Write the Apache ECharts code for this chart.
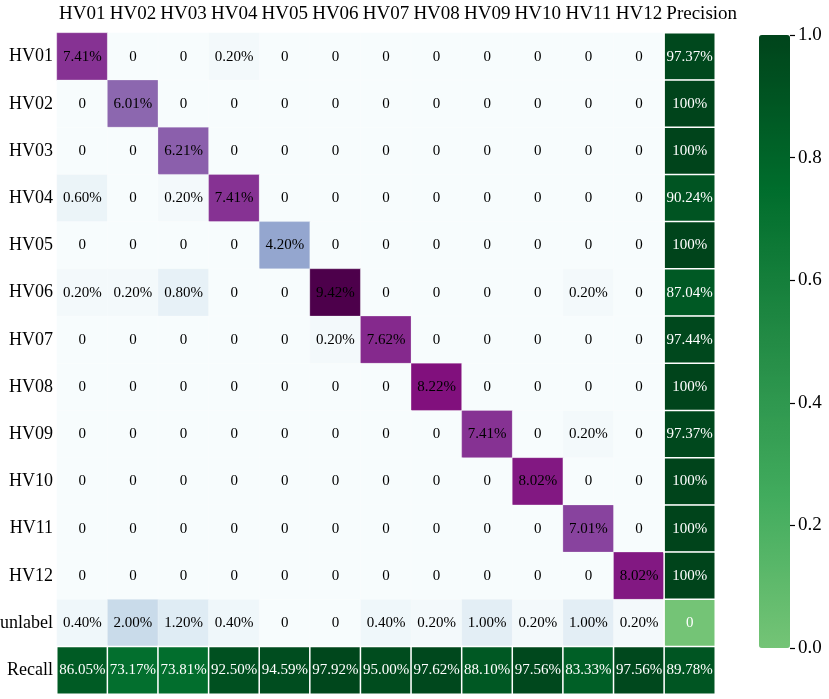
<!DOCTYPE html>
<html>
<head>
<meta charset="utf-8">
<script src="https://cdn.jsdelivr.net/npm/echarts@6/dist/echarts.min.js"></script>
<style>
  html, body { margin: 0; padding: 0; background: #fff; }
  #box { width: 829px; height: 699px; }
</style>
</head>
<body>
<div id="box"></div>
<script>
// column / row names
const predLabels = ['HV01', 'HV02', 'HV03', 'HV04', 'HV05', 'HV06', 'HV07', 'HV08', 'HV09', 'HV10', 'HV11', 'HV12', 'Precision']
const trueLabels = ['HV01', 'HV02', 'HV03', 'HV04', 'HV05', 'HV06', 'HV07', 'HV08', 'HV09', 'HV10', 'HV11', 'HV12', 'unlabel', 'Recall']

// confusion matrix in % of all samples (rows = HV01..HV12, unlabel)
const matrix = [
  [7.41, 0, 0, 0.20, 0, 0, 0, 0, 0, 0, 0, 0],
  [0, 6.01, 0, 0, 0, 0, 0, 0, 0, 0, 0, 0],
  [0, 0, 6.21, 0, 0, 0, 0, 0, 0, 0, 0, 0],
  [0.60, 0, 0.20, 7.41, 0, 0, 0, 0, 0, 0, 0, 0],
  [0, 0, 0, 0, 4.20, 0, 0, 0, 0, 0, 0, 0],
  [0.20, 0.20, 0.80, 0, 0, 9.42, 0, 0, 0, 0, 0.20, 0],
  [0, 0, 0, 0, 0, 0.20, 7.62, 0, 0, 0, 0, 0],
  [0, 0, 0, 0, 0, 0, 0, 8.22, 0, 0, 0, 0],
  [0, 0, 0, 0, 0, 0, 0, 0, 7.41, 0, 0.20, 0],
  [0, 0, 0, 0, 0, 0, 0, 0, 0, 8.02, 0, 0],
  [0, 0, 0, 0, 0, 0, 0, 0, 0, 0, 7.01, 0],
  [0, 0, 0, 0, 0, 0, 0, 0, 0, 0, 0, 8.02],
  [0.40, 2.00, 1.20, 0.40, 0, 0, 0.40, 0.20, 1.00, 0.20, 1.00, 0.20]
]
// per row (HV01..HV12, unlabel)
const precision = [0.9737, 1, 1, 0.9024, 1, 0.8704, 0.9744, 1, 0.9737, 1, 1, 1, 0]
// per column (HV01..HV12, overall)
const recall = [0.8605, 0.7317, 0.7381, 0.9250, 0.9459, 0.9792, 0.9500, 0.9762, 0.8810, 0.9756, 0.8333, 0.9756, 0.8978]
const barTicks = [0, 0.2, 0.4, 0.6, 0.8, 1.0]

const FONT = '"Liberation Serif", "Times New Roman", serif'

// heatmap points [col, row, value]
const mainData = []
matrix.forEach((row, r) => row.forEach((v, c) => mainData.push([c, r, v])))
const greenData = []
precision.forEach((v, r) => greenData.push([12, r, v]))
recall.forEach((v, c) => greenData.push([c, 13, v]))

const pctMain = v => v === 0 ? '0' : v.toFixed(2) + '%'
const pctGreen = v => v === 0 ? '0' : (v === 1 ? '100%' : (v * 100).toFixed(2) + '%')

const chart = echarts.init(document.getElementById('box'))
chart.setOption({
  backgroundColor: '#fff',
  animation: false,
  grid: [
    { left: 57, top: 33, width: 658, height: 661, containLabel: false, outerBoundsMode: 'none' },
    { left: 759, top: 35, width: 31, height: 613, containLabel: false, outerBoundsMode: 'none' }
  ],
  xAxis: [
    {
      type: 'category',
      data: predLabels,
      position: 'top',
      gridIndex: 0,
      axisLine: { show: false },
      axisTick: { show: false },
      axisLabel: {
        fontFamily: FONT, fontSize: 19, color: '#000', margin: 9, interval: 0,
        // the last header sits a little right of its column
        formatter: v => v === 'Precision' ? '{p|' + v + '}' : v,
        rich: { p: { fontFamily: FONT, fontSize: 19, color: '#000', padding: [0, 0, 0, 24] } }
      }
    },
    { type: 'value', gridIndex: 1, show: false, min: 0, max: 1 }
  ],
  yAxis: [
    {
      type: 'category',
      data: trueLabels,
      inverse: true,
      gridIndex: 0,
      axisLine: { show: false },
      axisTick: { show: false },
      axisLabel: { fontFamily: FONT, fontSize: 18, color: '#000', margin: 4, interval: 0 }
    },
    {
      // ticks for the colour bar
      type: 'value',
      gridIndex: 1,
      position: 'right',
      min: barTicks[0],
      max: barTicks[barTicks.length - 1],
      interval: 0.2,
      z: 10,
      splitLine: { show: false },
      axisLine: { show: true, onZero: false, lineStyle: { color: 'rgba(0,0,0,0)' } },
      axisTick: { show: true, inside: false, length: 5, lineStyle: { color: '#000', width: 1.2 } },
      axisLabel: {
        fontFamily: FONT, fontSize: 19, color: '#000', margin: 8,
        formatter: v => v.toFixed(1)
      }
    }
  ],
  visualMap: [
    {
      type: 'continuous',
      seriesIndex: 0,
      show: false,
      min: 0,
      max: 9.42,
      inRange: {
        color: ['#f7fcfd', '#e0ecf4', '#bfd3e6', '#9ebcda', '#8c96c6', '#8c6bb1', '#88419d', '#810f7c', '#4d004b']
      }
    },
    {
      type: 'continuous',
      seriesIndex: 1,
      min: 0,
      max: 1,
      left: 759,
      top: 35,
      padding: 0,
      itemWidth: 31,
      itemHeight: 613,
      calculable: false,
      hoverLink: false,
      inRange: {
        color: ['#74c476', '#41ab5d', '#238b45', '#006d2c', '#00441b']
      }
    }
  ],
  series: [
    {
      type: 'heatmap',
      xAxisIndex: 0,
      yAxisIndex: 0,
      data: mainData,
      itemStyle: { borderColor: 'rgba(255,255,255,0.5)', borderWidth: 0.5 },
      label: {
        show: true,
        fontFamily: FONT,
        fontSize: 15,
        color: '#000',
        formatter: p => pctMain(p.value[2])
      }
    },
    {
      type: 'heatmap',
      xAxisIndex: 0,
      yAxisIndex: 0,
      data: greenData,
      itemStyle: { borderColor: '#fff', borderWidth: 1.5 },
      label: {
        show: true,
        fontFamily: FONT,
        fontSize: 15,
        color: '#fff',
        formatter: p => pctGreen(p.value[2])
      }
    }
  ]
})
</script>
</body>
</html>
